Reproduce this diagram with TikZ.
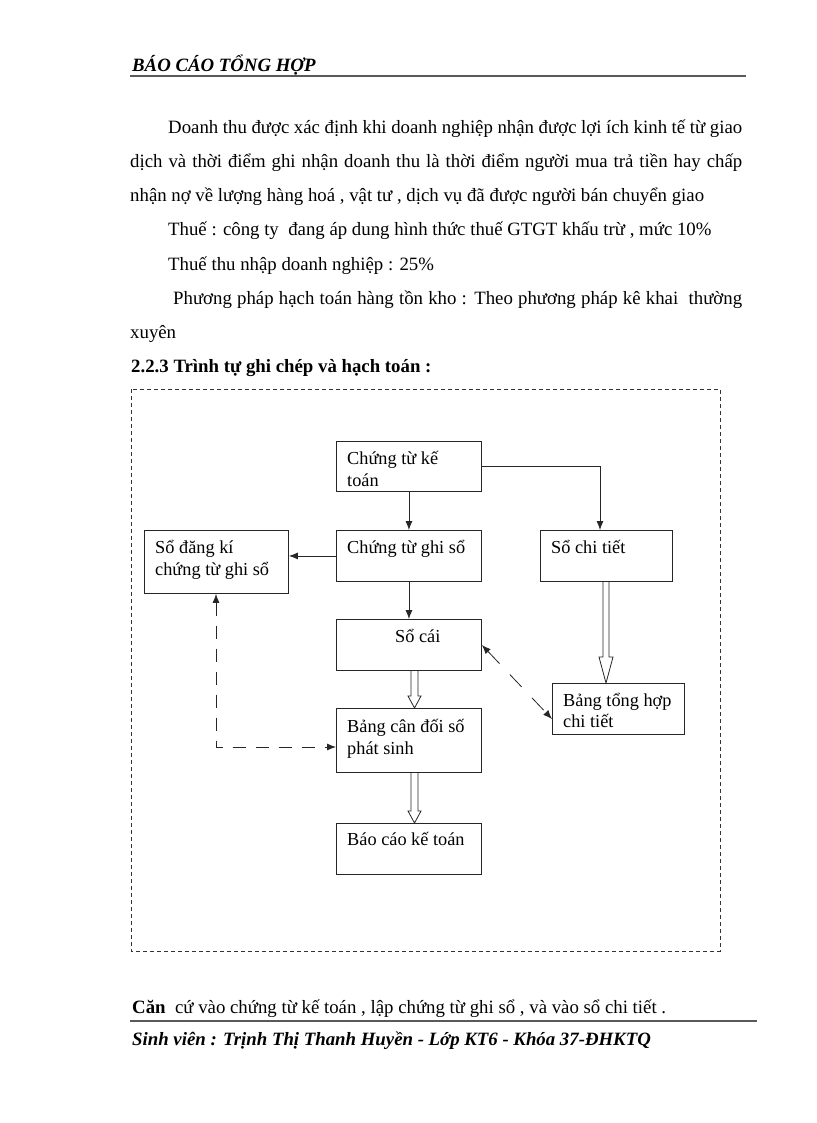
\documentclass[tikz,border=0pt]{standalone}
\usepackage{fontspec}
\setmainfont{Liberation Serif}
\usetikzlibrary{arrows.meta,calc}
\newcommand\fs{\fontsize{18.8}{22}\selectfont}
\newcommand\bfs{\fontsize{18.3}{22}\selectfont}
\newcommand\openarrow[5]{%
  \draw[openline] ($(#1)+(-#4,0)$) -- ($(#2)+(-#4,-#3)$) -- ($(#2)+(-#5,-#3)$) -- (#2) -- ($(#2)+(#5,-#3)$) -- ($(#2)+(#4,-#3)$) -- ($(#1)+(#4,0)$);}
\begin{document}
\begin{tikzpicture}[x=1pt,y=-1pt,
  every node/.style={inner sep=0pt,font=\fs},
  txt/.style={anchor=base west},
  btxt/.style={anchor=base west,font=\bfs},
  box/.style={draw=black!85,line width=0.9pt,anchor=north west},
  arr/.style={draw=black!85,line width=0.8pt,-{Latex[length=9pt,width=7pt]}},
  dasharr/.style={draw=black!85,line width=0.8pt,dash pattern=on 13pt off 10pt,{Latex[length=9pt,width=7pt]}-{Latex[length=9pt,width=7pt]}},
  diagarr/.style={draw=black!85,line width=0.8pt,dash pattern=on 17pt off 15pt,{Latex[length=9pt,width=7pt]}-{Latex[length=9pt,width=7pt]}},
  openline/.style={draw=black!85,line width=0.8pt,line join=miter}]
\fill[white] (0,0) rectangle (816,1123);
\useasboundingbox (0,0) rectangle (816,1123);

% header
\node[txt,font=\fs\bfseries\itshape] (hdr) at (132,72) {BÁO CÁO TỔNG HỢP};
\draw[line width=2pt,black!65] (130,76) -- (746,76);

% body text
\node[txt] (l1) at (168,134) {\hbox to 574pt{Doanh thu được xác định khi doanh nghiệp nhận được lợi ích kinh tế từ giao}};
\node[txt] (l2) at (130,168) {\hbox to 612pt{dịch và thời điểm ghi nhận doanh thu là thời điểm người mua trả tiền hay chấp}};
\node[txt] (l3) at (130,202) {nhận nợ về lượng hàng hoá , vật tư , dịch vụ đã được người bán chuyển giao};
\node[txt] (l4) at (168,236) {Thuế : công ty \ đang áp dung hình thức thuế GTGT khấu trừ , mức 10\%};
\node[txt] (l5) at (168,270) {Thuế thu nhập doanh nghiệp : 25\%};
\node[txt] (l6) at (173,304) {\hbox to 569pt{Phương pháp hạch toán hàng tồn kho : Theo phương pháp kê khai \ thường}};
\node[txt] (l7) at (130,338) {xuyên};
\node[txt,font=\fs\bfseries] (h223) at (131,372) {2.2.3 Trình tự ghi chép và hạch toán :};

% frame
\draw[black!80,line width=0.8pt,dash pattern=on 4pt off 3pt] (131,389) rectangle (720,951);

% boxes
\node[box,minimum width=145,minimum height=50] (ctkt) at (336,441) {};
\node[box,minimum width=145,minimum height=51] (ctgs) at (336,530) {};
\node[box,minimum width=144,minimum height=63] (sdk) at (144,530) {};
\node[box,minimum width=132,minimum height=51] (sct) at (540,530) {};
\node[box,minimum width=145,minimum height=51] (socai) at (336,619) {};
\node[box,minimum width=132,minimum height=51] (bth) at (552,683) {};
\node[box,minimum width=145,minimum height=64] (bcd) at (336,708) {};
\node[box,minimum width=145,minimum height=51] (bckt) at (336,823) {};

% box texts
\node[btxt] (ctkt1) at ($(ctkt.north west)+(11,23)$) {Chứng từ kế};
\node[btxt] (ctkt2) at ($(ctkt.north west)+(11,45)$) {toán};
\node[btxt] (ctgs1) at ($(ctgs.north west)+(11,23)$) {Chứng từ ghi sổ};
\node[btxt] (sdk1) at ($(sdk.north west)+(11,23)$) {Sổ đăng kí};
\node[btxt] (sdk2) at ($(sdk.north west)+(11,45)$) {chứng từ ghi sổ};
\node[btxt] (sct1) at ($(sct.north west)+(11,23)$) {Sổ chi tiết};
\node[btxt] (socai1) at ($(socai.north west)+(59,23)$) {Sổ cái};
\node[btxt] (bth1) at ($(bth.north west)+(11,23)$) {Bảng tổng hợp};
\node[btxt] (bth2) at ($(bth.north west)+(11,44)$) {chi tiết};
\node[btxt] (bcd1) at ($(bcd.north west)+(11,24)$) {Bảng cân đối số};
\node[btxt] (bcd2) at ($(bcd.north west)+(11,46)$) {phát sinh};
\node[btxt] (bckt1) at ($(bckt.north west)+(11,22)$) {Báo cáo kế toán};

% arrows
\draw[arr] (ctkt.south) -- (ctgs.north);
\draw[arr] (ctkt.east) -- (600,0 |- ctkt.east) -- (600,0 |- sct.north);
\draw[arr] (ctgs.west) -- (sdk.east |- ctgs.west);
\draw[arr] (ctgs.south) -- (socai.north);
\coordinate (dk1) at (216,0 |- sdk.south);
\coordinate (dk2) at (216,747);
\coordinate (dk3) at (bcd.west |- dk2);
\draw[dasharr] (dk1) -- (dk2) -- (dk3);
\coordinate (dg1) at (socai.east |- 0,645);
\coordinate (dg2) at (bth.west |- 0,719);
\draw[diagarr] (dg1) -- (dg2);

% open double arrows
\coordinate (a1s) at (606,0 |- sct.south);
\coordinate (a1t) at (606,0 |- bth.north);
\openarrow{a1s}{a1t}{26}{3}{7}
\coordinate (a2s) at (414.5,0 |- socai.south);
\coordinate (a2t) at (414.5,0 |- bcd.north);
\openarrow{a2s}{a2t}{12}{3.5}{6.5}
\coordinate (a3s) at (414.5,0 |- bcd.south);
\coordinate (a3t) at (414.5,0 |- bckt.north);
\openarrow{a3s}{a3t}{12}{3.5}{6.5}

% bottom
\node[txt] (can) at (132,1013) {\textbf{Căn} \ cứ vào chứng từ kế toán , lập chứng từ ghi sổ , và vào sổ chi tiết .};
\draw[line width=1.2pt,black!65] (130,1021) -- (757,1021);
\node[txt,font=\fs\bfseries\itshape] (ftr) at (132,1045) {Sinh viên : Trịnh Thị Thanh Huyền - Lớp KT6 - Khóa 37-ĐHKTQ};
\end{tikzpicture}
\end{document}
